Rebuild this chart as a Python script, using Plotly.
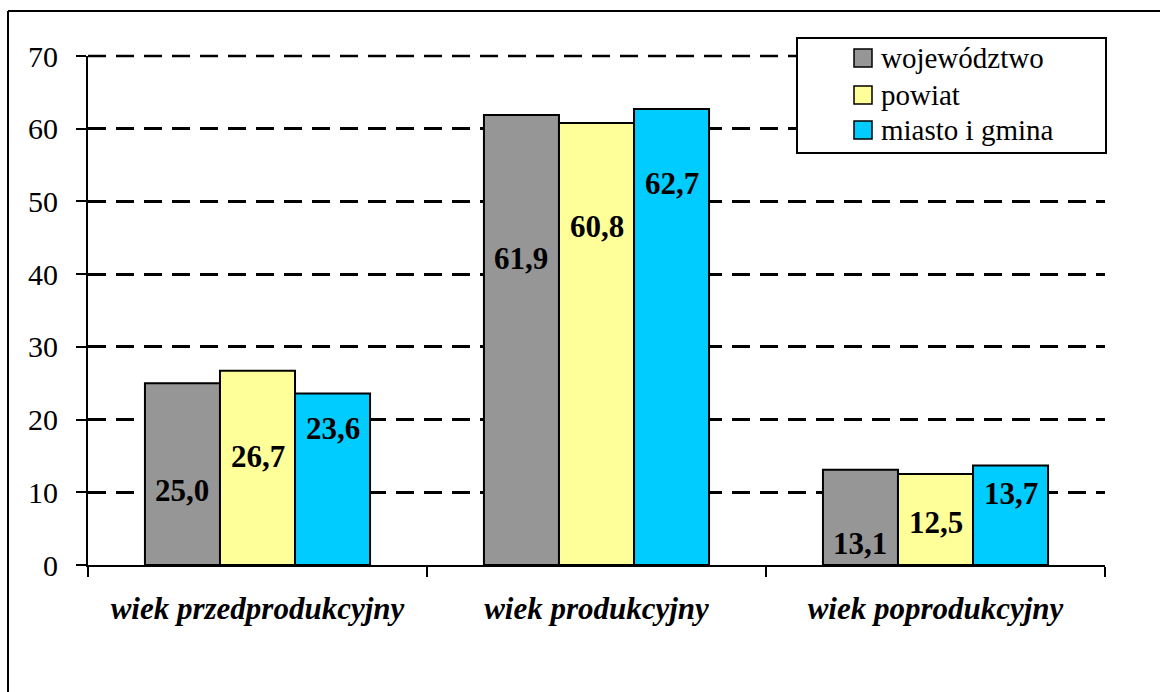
import plotly.graph_objects as go

# Age-group structure of the population (%)
categories = ["wiek przedprodukcyjny", "wiek produkcyjny", "wiek poprodukcyjny"]
series_names = ["województwo", "powiat", "miasto i gmina"]
wojewodztwo = [25.0, 61.9, 13.1]
powiat = [26.7, 60.8, 12.5]
miasto_i_gmina = [23.6, 62.7, 13.7]
y_ticks = [0, 10, 20, 30, 40, 50, 60, 70]

# Vertical placement of the value labels inside the bars (axis units)
label_heights = [
    [10.3, 42.2, 3.0],
    [14.9, 46.5, 5.8],
    [18.8, 52.5, 9.9],
]

colors = ["#969696", "#FFFF99", "#00CCFF"]
FONT = "'Liberation Serif', 'Times New Roman', serif"

W, H = 1160, 692
ML, MR, MT, MB = 88, 55, 56, 127
BARGAP = 0.336
GRID_DASH = "18px,10px"

values = [wojewodztwo, powiat, miasto_i_gmina]

fig = go.Figure()
for name, vals, col in zip(series_names, values, colors):
    fig.add_trace(go.Bar(
        x=categories, y=vals, name=name,
        marker=dict(color=col, line=dict(color="black", width=2)),
        hoverinfo="x+y+name",
    ))

# Value labels placed over each bar
n = len(values)
bar_w = (1 - BARGAP) / n
annotations = []
for j, (vals, heights) in enumerate(zip(values, label_heights)):
    for i, (v, h) in enumerate(zip(vals, heights)):
        annotations.append(dict(
            x=i + (j - (n - 1) / 2) * bar_w, y=h, xref="x", yref="y",
            text="<b>" + f"{v:.1f}".replace(".", ",") + "</b>",
            showarrow=False, xanchor="center", yanchor="middle",
            font=dict(family=FONT, size=31, color="black"),
        ))

# Helpers converting page pixels to paper coordinates (for frame and legend)
pw, ph = W - ML - MR, H - MT - MB
def px(x):
    return (x - ML) / pw
def py(y):
    return (H - MB - y) / ph

shapes = [
    # top gridline, which sits on the upper edge of the plotting area
    dict(type="line", xref="paper", yref="paper", x0=0, x1=1, y0=1, y1=1,
         line=dict(color="black", width=2.5, dash=GRID_DASH), layer="below"),
    # outer frame (top and left edges)
    dict(type="line", xref="paper", yref="paper", x0=px(8), y0=py(11), x1=px(1170), y1=py(11),
         line=dict(color="black", width=2)),
    dict(type="line", xref="paper", yref="paper", x0=px(8), y0=py(11), x1=px(8), y1=py(700),
         line=dict(color="black", width=2)),
    # legend box
    dict(type="rect", xref="paper", yref="paper", x0=px(797), y0=py(38), x1=px(1106), y1=py(153),
         line=dict(color="black", width=2), fillcolor="white", layer="above"),
]

row_centers = [58, 95, 130]
for name, col, yc in zip(series_names, colors, row_centers):
    shapes.append(dict(type="rect", xref="paper", yref="paper",
                       x0=px(854), x1=px(872), y0=py(yc - 9), y1=py(yc + 9),
                       line=dict(color="black", width=1.5), fillcolor=col, layer="above"))
    annotations.append(dict(x=px(879), y=py(yc), xref="paper", yref="paper",
                            text=name, showarrow=False, xanchor="left", yanchor="middle",
                            font=dict(family=FONT, size=29, color="black")))

fig.update_layout(
    width=W, height=H,
    margin=dict(l=ML, r=MR, t=MT, b=MB),
    plot_bgcolor="white", paper_bgcolor="white",
    barmode="group", bargap=BARGAP, bargroupgap=0,
    showlegend=False,
    annotations=annotations, shapes=shapes,
    font=dict(family=FONT, color="black"),
)
fig.update_yaxes(
    range=[0, 70], tickvals=y_ticks,
    showgrid=True, gridcolor="black", gridwidth=2.5, griddash=GRID_DASH,
    showline=True, linecolor="black", linewidth=2,
    ticks="outside", ticklen=10, tickwidth=2, tickcolor="black",
    tickfont=dict(family=FONT, size=30, color="black"),
    zeroline=False, ticklabelstandoff=12,
)
fig.update_xaxes(
    type="category",
    showline=True, linecolor="black", linewidth=2,
    ticks="outside", tickson="boundaries", ticklen=10, tickwidth=2, tickcolor="black",
    tickfont=dict(family=FONT, size=31, color="black", weight="bold", style="italic"),
    ticklabelstandoff=15,
)

fig.write_html("out.html")
